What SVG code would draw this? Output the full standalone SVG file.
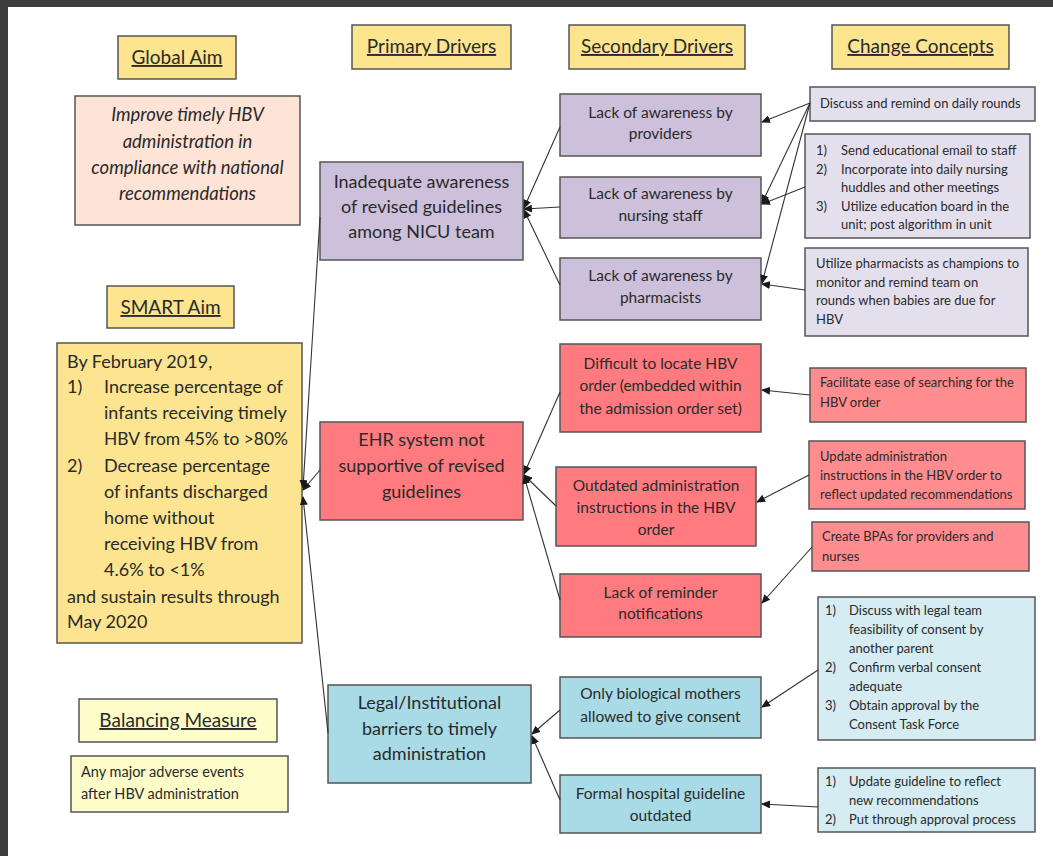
<svg xmlns="http://www.w3.org/2000/svg" width="1053" height="856" viewBox="0 0 1053 856">
  <defs>
    <marker id="arrow" markerWidth="9" markerHeight="8" refX="8" refY="4" orient="auto" markerUnits="userSpaceOnUse">
      <path d="M0,0 L9,4 L0,8 Z" fill="#1a1a1a"/>
    </marker>
    <style>
      text { font-family: Lato, "Open Sans", "Liberation Sans", sans-serif; fill: #2a2a2a; }
      .box { stroke: #555555; stroke-width: 1.5; }
      .hdr { fill: #fde58f; }
      .hdr-t { font-size: 19px; text-anchor: middle; text-decoration: underline; }
      .peach { fill: #fde4d6; }
      .smart { fill: #fce490; }
      .bal { fill: #fdfdca; }
      .pur1 { fill: #ccc0da; }
      .pur2 { fill: #e4dfec; }
      .red1 { fill: #ff7b80; }
      .red2 { fill: #ff8c8e; }
      .blu1 { fill: #a8dbe6; }
      .blu2 { fill: #d4ecf2; }
      .pri { font-size: 18px; text-anchor: middle; }
      .sec { font-size: 15.5px; text-anchor: middle; }
      .cc { font-size: 13px; }
      .aim { font-size: 18.5px; }
      .smt { font-size: 18px; }
      .conn line { stroke: #333333; stroke-width: 1.1; marker-end: url(#arrow); }
    </style>
  </defs>

  <!-- page frame -->
  <rect x="0" y="0" width="1053" height="856" fill="#3d3d3d"/>
  <rect x="8" y="7" width="1045" height="849" fill="#ffffff"/>

  <!-- column headers -->
  <g id="hdr-global-aim">
    <rect class="box hdr" x="118" y="36" width="118" height="43"/>
    <text class="hdr-t" x="177" y="64">Global Aim</text>
  </g>
  <g id="hdr-primary">
    <rect class="box hdr" x="352" y="25" width="159" height="44"/>
    <text class="hdr-t" x="431.5" y="53">Primary Drivers</text>
  </g>
  <g id="hdr-secondary">
    <rect class="box hdr" x="569" y="25" width="176" height="44"/>
    <text class="hdr-t" x="657" y="53">Secondary Drivers</text>
  </g>
  <g id="hdr-change">
    <rect class="box hdr" x="832" y="25" width="177" height="44"/>
    <text class="hdr-t" x="920.5" y="53">Change Concepts</text>
  </g>

  <!-- aims -->
  <g id="global-aim">
    <rect class="box peach" x="75" y="96" width="225" height="129"/>
    <text class="aim" font-style="italic" text-anchor="middle" x="187.5" y="121">Improve timely HBV</text>
    <text class="aim" font-style="italic" text-anchor="middle" x="187.5" y="148">administration in</text>
    <text class="aim" font-style="italic" text-anchor="middle" x="187.5" y="174">compliance with national</text>
    <text class="aim" font-style="italic" text-anchor="middle" x="187.5" y="200">recommendations</text>
  </g>

  <g id="hdr-smart-aim">
    <rect class="box hdr" x="107" y="286" width="127" height="42"/>
    <text class="hdr-t" x="170.5" y="314">SMART Aim</text>
  </g>
  <g id="smart-aim">
    <rect class="box smart" x="57" y="343" width="245" height="300"/>
    <text class="smt" x="67" y="368">By February 2019,</text>
    <text class="smt" x="67" y="393">1)</text>
    <text class="smt" x="104" y="393">Increase percentage of</text>
    <text class="smt" x="104" y="419">infants receiving timely</text>
    <text class="smt" x="104" y="445" textLength="184" lengthAdjust="spacingAndGlyphs">HBV from 45% to &gt;80%</text>
    <text class="smt" x="67" y="472">2)</text>
    <text class="smt" x="104" y="472">Decrease percentage</text>
    <text class="smt" x="104" y="498">of infants discharged</text>
    <text class="smt" x="104" y="524">home without</text>
    <text class="smt" x="104" y="550">receiving HBV from</text>
    <text class="smt" x="104" y="576">4.6% to &lt;1%</text>
    <text class="smt" x="67" y="603">and sustain results through</text>
    <text class="smt" x="67" y="628">May 2020</text>
  </g>

  <g id="hdr-balancing">
    <rect class="box bal" x="79" y="699" width="198" height="43"/>
    <text class="hdr-t" x="178" y="727">Balancing Measure</text>
  </g>
  <g id="balancing">
    <rect class="box bal" x="71" y="756" width="217" height="56"/>
    <text x="81" y="777" font-size="14.5">Any major adverse events</text>
    <text x="81" y="799" font-size="14.5">after HBV administration</text>
  </g>

  <!-- primary drivers -->
  <g id="pd-awareness">
    <rect class="box pur1" x="320" y="162" width="203" height="98"/>
    <text class="pri" x="421.5" y="188">Inadequate awareness</text>
    <text class="pri" x="421.5" y="213">of revised guidelines</text>
    <text class="pri" x="421.5" y="238">among NICU team</text>
  </g>
  <g id="pd-ehr">
    <rect class="box red1" x="320" y="422" width="203" height="98"/>
    <text class="pri" x="421.5" y="446">EHR system not</text>
    <text class="pri" x="421.5" y="472">supportive of revised</text>
    <text class="pri" x="421.5" y="498">guidelines</text>
  </g>
  <g id="pd-legal">
    <rect class="box blu1" x="328" y="685" width="203" height="98"/>
    <text class="pri" x="429.5" y="709">Legal/Institutional</text>
    <text class="pri" x="429.5" y="735">barriers to timely</text>
    <text class="pri" x="429.5" y="760">administration</text>
  </g>

  <!-- secondary drivers -->
  <g id="sd-providers">
    <rect class="box pur1" x="560" y="94" width="201" height="62"/>
    <text class="sec" x="660.5" y="118">Lack of awareness by</text>
    <text class="sec" x="660.5" y="139">providers</text>
  </g>
  <g id="sd-nursing">
    <rect class="box pur1" x="560" y="177" width="201" height="61"/>
    <text class="sec" x="660.5" y="199">Lack of awareness by</text>
    <text class="sec" x="660.5" y="221">nursing staff</text>
  </g>
  <g id="sd-pharmacists">
    <rect class="box pur1" x="560" y="258" width="201" height="62"/>
    <text class="sec" x="660.5" y="281">Lack of awareness by</text>
    <text class="sec" x="660.5" y="303">pharmacists</text>
  </g>
  <g id="sd-locate">
    <rect class="box red1" x="560" y="344" width="201" height="88"/>
    <text class="sec" x="660.5" y="369">Difficult to locate HBV</text>
    <text class="sec" x="660.5" y="391">order (embedded  within</text>
    <text class="sec" x="660.5" y="414">the admission order set)</text>
  </g>
  <g id="sd-outdated">
    <rect class="box red1" x="556" y="467" width="200" height="79"/>
    <text class="sec" x="656" y="491">Outdated administration</text>
    <text class="sec" x="656" y="513">instructions in the HBV</text>
    <text class="sec" x="656" y="535">order</text>
  </g>
  <g id="sd-reminder">
    <rect class="box red1" x="560" y="574" width="201" height="63"/>
    <text class="sec" x="660.5" y="598">Lack of reminder</text>
    <text class="sec" x="660.5" y="619">notifications</text>
  </g>
  <g id="sd-mothers">
    <rect class="box blu1" x="560" y="677" width="201" height="61"/>
    <text class="sec" x="660.5" y="699">Only biological mothers</text>
    <text class="sec" x="660.5" y="722">allowed to give consent</text>
  </g>
  <g id="sd-guideline">
    <rect class="box blu1" x="560" y="775" width="201" height="58"/>
    <text class="sec" x="660.5" y="799">Formal hospital guideline</text>
    <text class="sec" x="660.5" y="821">outdated</text>
  </g>

  <!-- change concepts -->
  <g id="cc-rounds">
    <rect class="box pur2" x="810" y="87" width="225" height="34"/>
    <text class="cc" x="820" y="108">Discuss and remind on daily rounds</text>
  </g>
  <g id="cc-education">
    <rect class="box pur2" x="805" y="134" width="225" height="104"/>
    <text class="cc" x="816" y="155">1)</text>
    <text class="cc" x="841" y="155">Send educational email to staff</text>
    <text class="cc" x="816" y="173.5">2)</text>
    <text class="cc" x="841" y="173.5">Incorporate into daily nursing</text>
    <text class="cc" x="841" y="192">huddles and other meetings</text>
    <text class="cc" x="816" y="210.5">3)</text>
    <text class="cc" x="841" y="210.5">Utilize education board in the</text>
    <text class="cc" x="841" y="229">unit; post algorithm in unit</text>
  </g>
  <g id="cc-pharmacists">
    <rect class="box pur2" x="805" y="248" width="223" height="88"/>
    <text class="cc" x="816" y="268">Utilize pharmacists as champions to</text>
    <text class="cc" x="816" y="287">monitor and remind team on</text>
    <text class="cc" x="816" y="305">rounds when babies are due for</text>
    <text class="cc" x="816" y="324">HBV</text>
  </g>
  <g id="cc-search">
    <rect class="box red2" x="810" y="368" width="216" height="54"/>
    <text class="cc" x="820" y="387">Facilitate ease of searching for the</text>
    <text class="cc" x="820" y="407">HBV order</text>
  </g>
  <g id="cc-instructions">
    <rect class="box red2" x="809" y="441" width="216" height="68"/>
    <text class="cc" x="820" y="461">Update administration</text>
    <text class="cc" x="820" y="480">instructions in the HBV order to</text>
    <text class="cc" x="820" y="499">reflect updated recommendations</text>
  </g>
  <g id="cc-bpa">
    <rect class="box red2" x="812" y="522" width="217" height="49"/>
    <text class="cc" x="822" y="541">Create BPAs for providers and</text>
    <text class="cc" x="822" y="561">nurses</text>
  </g>
  <g id="cc-consent">
    <rect class="box blu2" x="818" y="597" width="217" height="143"/>
    <text class="cc" x="825" y="615">1)</text>
    <text class="cc" x="849" y="615">Discuss with legal team</text>
    <text class="cc" x="849" y="634">feasibility of consent by</text>
    <text class="cc" x="849" y="653">another parent</text>
    <text class="cc" x="825" y="672">2)</text>
    <text class="cc" x="849" y="672">Confirm  verbal consent</text>
    <text class="cc" x="849" y="691">adequate</text>
    <text class="cc" x="825" y="710">3)</text>
    <text class="cc" x="849" y="710">Obtain approval by the</text>
    <text class="cc" x="849" y="729">Consent Task Force</text>
  </g>
  <g id="cc-guideline">
    <rect class="box blu2" x="818" y="768" width="217" height="64"/>
    <text class="cc" x="825" y="786">1)</text>
    <text class="cc" x="849" y="786">Update guideline to reflect</text>
    <text class="cc" x="849" y="805">new recommendations</text>
    <text class="cc" x="825" y="824">2)</text>
    <text class="cc" x="849" y="824">Put through approval process</text>
  </g>

  <!-- connectors: each arrow points from a box to the box on its left -->
  <g id="connectors" class="conn">
    <line x1="810" y1="103" x2="762" y2="122"/>
    <line x1="810" y1="103" x2="762" y2="203"/>
    <line x1="805" y1="187" x2="762" y2="204"/>
    <line x1="810" y1="103" x2="762" y2="283"/>
    <line x1="805" y1="290" x2="762" y2="284"/>
    <line x1="810" y1="395" x2="762" y2="390"/>
    <line x1="809" y1="475" x2="757" y2="502"/>
    <line x1="812" y1="547" x2="762" y2="603"/>
    <line x1="818" y1="670" x2="762" y2="707"/>
    <line x1="818" y1="807" x2="762" y2="804"/>
    <line x1="560" y1="127" x2="524" y2="208"/>
    <line x1="560" y1="207" x2="524" y2="209"/>
    <line x1="560" y1="285" x2="524" y2="210"/>
    <line x1="560" y1="392" x2="524" y2="474"/>
    <line x1="556" y1="506" x2="524" y2="475"/>
    <line x1="560" y1="600" x2="524" y2="476"/>
    <line x1="560" y1="710" x2="532" y2="734"/>
    <line x1="560" y1="800" x2="532" y2="736"/>
    <line x1="320" y1="217" x2="303" y2="488"/>
    <line x1="320" y1="470" x2="303" y2="490"/>
    <line x1="328" y1="733" x2="303" y2="497"/>
  </g>
</svg>
